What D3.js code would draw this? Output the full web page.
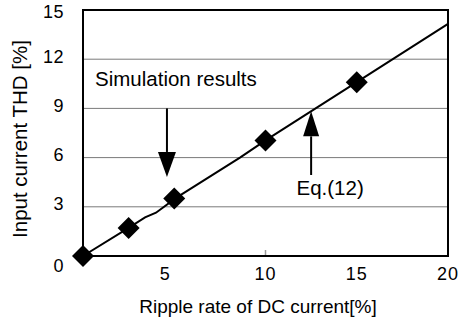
<!DOCTYPE html>
<html>
<head>
<meta charset="utf-8">
<script src="https://cdn.jsdelivr.net/npm/d3@7"></script>
<style>
  html, body { margin: 0; padding: 0; background: #fff; }
  svg { display: block; font-family: "Liberation Sans", Arial, sans-serif; }
</style>
</head>
<body>
<svg id="chart" width="460" height="325"></svg>
<script>
// Simulated THD points
const simRipple = [0, 2.5, 5, 10, 15];
const simTHD = [0, 1.7, 3.5, 7.05, 10.6];

// Eq.(12) curve
const eqRipple = [0, 2.5, 3.4, 4.0, 5.1, 8.6, 10, 15, 20];
const eqTHD = [0, 1.72, 2.36, 2.64, 3.54, 6.0, 7.05, 10.6, 14.15];

// Axis ticks
const xTicks = [5, 10, 15, 20];
const yTicks = [0, 3, 6, 9, 12, 15];
const yGrid = [3, 6, 9, 12];

const svg = d3.select("#chart");
const plotL = 83, plotR = 448, plotT = 10, plotB = 256;

const x = d3.scaleLinear().domain([0, 20]).range([plotL, plotR]);
const y = d3.scaleLinear().domain([0, 15]).range([plotB, plotT]);

// horizontal grid lines
svg.append("g").selectAll("line").data(yGrid).join("line")
  .attr("x1", plotL).attr("x2", plotR)
  .attr("y1", d => y(d)).attr("y2", d => y(d))
  .attr("stroke", "#7a7a7a").attr("stroke-width", 1);

// small tick at 10 on the bottom edge
svg.append("line")
  .attr("x1", x(10)).attr("x2", x(10))
  .attr("y1", plotB - 6).attr("y2", plotB)
  .attr("stroke", "#9a9a9a").attr("stroke-width", 1.5);

// plot frame
svg.append("rect")
  .attr("x", plotL).attr("y", plotT)
  .attr("width", plotR - plotL).attr("height", plotB - plotT)
  .attr("fill", "none").attr("stroke", "#000").attr("stroke-width", 2);

// Eq.(12) line
const eqData = eqRipple.map((r, i) => [r, eqTHD[i]]);
svg.append("path")
  .datum(eqData)
  .attr("d", d3.line().x(d => x(d[0])).y(d => y(d[1])))
  .attr("fill", "none").attr("stroke", "#000").attr("stroke-width", 2);

// diamonds for simulation results
const half = 11;
const diamond = `M0,${-half}L${half},0L0,${half}L${-half},0Z`;
svg.append("g").selectAll("path").data(simRipple.map((r, i) => [r, simTHD[i]])).join("path")
  .attr("transform", d => `translate(${x(d[0])},${y(d[1])})`)
  .attr("d", diamond)
  .attr("fill", "#000");

// y tick labels
const yNudge = v => v === 0 ? 10 : (v === 15 ? 2 : -3);
svg.append("g").selectAll("text").data(yTicks).join("text")
  .attr("x", 64)
  .attr("y", d => y(d) + yNudge(d))
  .attr("dy", "0.35em")
  .attr("text-anchor", "end")
  .attr("font-size", 18)
  .style("letter-spacing", "0.5px")
  .text(d => d);

// x tick labels
svg.append("g").selectAll("text").data(xTicks).join("text")
  .attr("x", d => x(d) + (d === 5 ? -9 : 0))
  .attr("y", 274)
  .attr("dy", "0.35em")
  .attr("text-anchor", "middle")
  .attr("font-size", 18)
  .style("letter-spacing", "1px")
  .text(d => d);

// axis titles
svg.append("text")
  .attr("x", 258).attr("y", 313)
  .attr("text-anchor", "middle")
  .attr("font-size", 19)
  .text("Ripple rate of DC current[%]");

svg.append("text")
  .attr("transform", "translate(27,139) rotate(-90)")
  .attr("text-anchor", "middle")
  .attr("font-size", 20.5)
  .text("Input current THD [%]");

// arrows
function arrow(xv, fromY, tipY, headLen, headW) {
  const px = x(xv), y0 = y(fromY), yt = y(tipY);
  const dir = yt > y0 ? 1 : -1;
  const base = yt - dir * headLen;
  svg.append("line")
    .attr("x1", px).attr("x2", px).attr("y1", y0).attr("y2", base)
    .attr("stroke", "#000").attr("stroke-width", 2);
  svg.append("path")
    .attr("d", `M${px - headW / 2},${base}L${px + headW / 2},${base}L${px},${yt}Z`)
    .attr("fill", "#000");
}
arrow(4.6, 9, 4.82, 25, 18);
arrow(12.5, 4.94, 8.82, 25, 16);

// annotation texts
svg.append("text")
  .attr("x", x(0.66)).attr("y", y(10.37))
  .attr("font-size", 20.5)
  .text("Simulation results");

svg.append("text")
  .attr("x", x(11.7)).attr("y", y(3.72))
  .attr("font-size", 20.5)
  .text("Eq.(12)");
</script>
</body>
</html>
